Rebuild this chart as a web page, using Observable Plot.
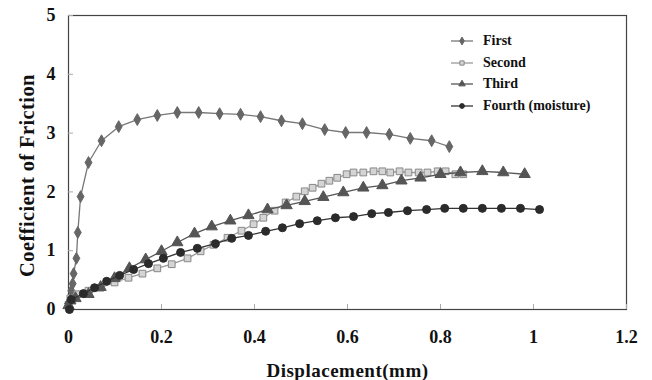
<!DOCTYPE html>
<html><head><meta charset="utf-8">
<script src="https://cdn.jsdelivr.net/npm/d3@7"></script>
<script src="https://cdn.jsdelivr.net/npm/@observablehq/plot@0.6"></script>
<style>
body{margin:0;background:#fff;}
#wrap{position:relative;width:652px;height:380px;}
#wrap svg text{font-family:"Liberation Serif","Times New Roman",serif !important;font-weight:bold !important;}
#legend{position:absolute;left:450px;top:30px;font:bold 14px "Liberation Serif",serif;color:#111;}
.row{display:flex;align-items:center;height:21.7px;}
.row svg{margin-right:9px;}
</style></head><body><div id="wrap"><div id="legend"></div></div>
<script>
const seriesNames = ["First", "Second", "Third", "Fourth (moisture)"];
const xTicks = [0, 0.2, 0.4, 0.6, 0.8, 1, 1.2];
const yTicks = [0, 1, 2, 3, 4, 5];
const xTitle = "Displacement(mm)";
const yTitle = "Coefficient of Friction";

const firstX = [0, 0.006, 0.009, 0.011, 0.017, 0.02, 0.026, 0.043, 0.071, 0.108, 0.148, 0.191, 0.234, 0.28, 0.325, 0.37, 0.413, 0.458, 0.503, 0.551, 0.596, 0.641, 0.69, 0.735, 0.781, 0.819];
const firstY = [0.1, 0.32, 0.44, 0.61, 0.87, 1.31, 1.92, 2.5, 2.87, 3.11, 3.23, 3.3, 3.35, 3.35, 3.33, 3.32, 3.28, 3.21, 3.16, 3.06, 3.01, 3.01, 2.98, 2.91, 2.87, 2.77];

const secondX = [0, 0.004, 0.019, 0.043, 0.069, 0.099, 0.129, 0.159, 0.191, 0.222, 0.256, 0.284, 0.312, 0.342, 0.372, 0.398, 0.419, 0.443, 0.467, 0.49, 0.508, 0.525, 0.544, 0.561, 0.578, 0.598, 0.613, 0.634, 0.656, 0.675, 0.692, 0.712, 0.731, 0.753, 0.772, 0.794, 0.811, 0.832, 0.849];
const secondY = [0.08, 0.19, 0.26, 0.32, 0.37, 0.46, 0.54, 0.61, 0.7, 0.77, 0.87, 0.99, 1.1, 1.22, 1.34, 1.45, 1.56, 1.68, 1.82, 1.92, 2.01, 2.07, 2.14, 2.19, 2.24, 2.3, 2.33, 2.33, 2.35, 2.35, 2.33, 2.35, 2.33, 2.33, 2.33, 2.35, 2.35, 2.3, 2.3];

const thirdX = [0, 0.004, 0.015, 0.043, 0.069, 0.099, 0.131, 0.166, 0.2, 0.234, 0.271, 0.308, 0.348, 0.387, 0.428, 0.469, 0.508, 0.548, 0.591, 0.634, 0.675, 0.716, 0.757, 0.8, 0.843, 0.89, 0.935, 0.981];
const thirdY = [0.07, 0.15, 0.19, 0.26, 0.38, 0.53, 0.7, 0.85, 0.99, 1.14, 1.29, 1.41, 1.51, 1.6, 1.7, 1.77, 1.84, 1.91, 1.99, 2.07, 2.11, 2.19, 2.24, 2.3, 2.33, 2.35, 2.33, 2.3];

const fourthX = [0.002, 0.006, 0.032, 0.056, 0.082, 0.11, 0.14, 0.172, 0.204, 0.241, 0.277, 0.316, 0.351, 0.387, 0.424, 0.46, 0.497, 0.535, 0.574, 0.613, 0.652, 0.688, 0.729, 0.77, 0.809, 0.849, 0.89, 0.931, 0.972, 1.013];
const fourthY = [0, 0.17, 0.27, 0.37, 0.48, 0.58, 0.68, 0.78, 0.87, 0.97, 1.04, 1.12, 1.21, 1.26, 1.33, 1.39, 1.46, 1.51, 1.56, 1.58, 1.63, 1.65, 1.68, 1.7, 1.72, 1.72, 1.72, 1.72, 1.72, 1.7];

const styles = [
  {symbol: "diamond", fill: "#666", stroke: "#666", line: "#777", r: 3.6, d3sym: d3.symbolDiamond},
  {symbol: "square", fill: "#d4d4d4", stroke: "#888", line: "#999", r: 3.8, d3sym: d3.symbolSquare},
  {symbol: "triangle", fill: "#555", stroke: "#555", line: "#555", r: 4.2, d3sym: d3.symbolTriangle},
  {symbol: "circle", fill: "#2b2b2b", stroke: "#2b2b2b", line: "#333", r: 4.0, d3sym: d3.symbolCircle}
];

const xs = [firstX, secondX, thirdX, fourthX];
const ys = [firstY, secondY, thirdY, fourthY];
const data = seriesNames.map((name, i) => xs[i].map((x, j) => ({series: name, x, y: ys[i][j]})));

const font = "'Liberation Serif', 'Times New Roman', serif";
const marks = [
  Plot.frame({stroke: "#444", strokeWidth: 1.2}),
  Plot.axisX({ticks: xTicks, tickSize: -5, stroke: "#aaa", tickFormat: () => "", label: null}),
  Plot.axisY({ticks: yTicks, tickSize: -5, stroke: "#aaa", tickFormat: () => "", label: null}),
  Plot.axisX({ticks: xTicks, tickSize: 0, tickPadding: 21, tickFormat: d => String(d), label: null,
    fontSize: 18, fontWeight: "bold", fontFamily: font, fill: "#111"}),
  Plot.axisY({ticks: yTicks, tickSize: 0, tickPadding: 13, tickFormat: d => String(d), label: null,
    fontSize: 18, fontWeight: "bold", fontFamily: font, fill: "#111"}),
  Plot.text([xTitle], {frameAnchor: "bottom", dy: 61, lineAnchor: "middle", textAnchor: "middle", fontSize: 19, fontWeight: "bold", fontFamily: font, fill: "#111"}),
  Plot.text([yTitle], {frameAnchor: "left", rotate: -90, dx: -41, dy: 13, lineAnchor: "middle", textAnchor: "middle", fontSize: 20.5, fontWeight: "bold", fontFamily: font, fill: "#111"})
];
data.forEach((d, i) => {
  const s = styles[i];
  marks.push(Plot.line(d, {x: "x", y: "y", stroke: s.line, strokeWidth: 1.3}));
  marks.push(Plot.dot(d, {x: "x", y: "y", symbol: () => s.symbol, r: s.r, fill: s.fill, stroke: s.stroke, strokeWidth: 1}));
});

const chart = Plot.plot({
  width: 652, height: 380,
  marginLeft: 68, marginRight: 26, marginTop: 15, marginBottom: 71,
  x: {domain: [0, 1.2]},
  y: {domain: [0, 5]},
  style: {background: "#fff", fontFamily: font},
  marks
});
document.getElementById("wrap").prepend(chart);
d3.select(chart).selectAll("text").filter(function() { return this.textContent === xTitle; })
  .style("letter-spacing", "0.5px");
d3.select(chart).selectAll("text").filter(function() { return this.textContent === yTitle; })
  .style("letter-spacing", "0.4px");

const legend = d3.select("#legend");
seriesNames.forEach((name, i) => {
  const s = styles[i];
  const row = legend.append("div").attr("class", "row");
  const svg = row.append("svg").attr("width", 24).attr("height", 12);
  svg.append("line").attr("x1", 1).attr("x2", 23).attr("y1", 6).attr("y2", 6).attr("stroke", s.line).attr("stroke-width", 1.3);
  svg.append("path").attr("transform", "translate(12,6)")
    .attr("d", d3.symbol(s.d3sym, Math.PI * 2.4 * 2.4)())
    .attr("fill", s.fill).attr("stroke", s.stroke);
  row.append("span").text(name);
});
</script></body></html>
